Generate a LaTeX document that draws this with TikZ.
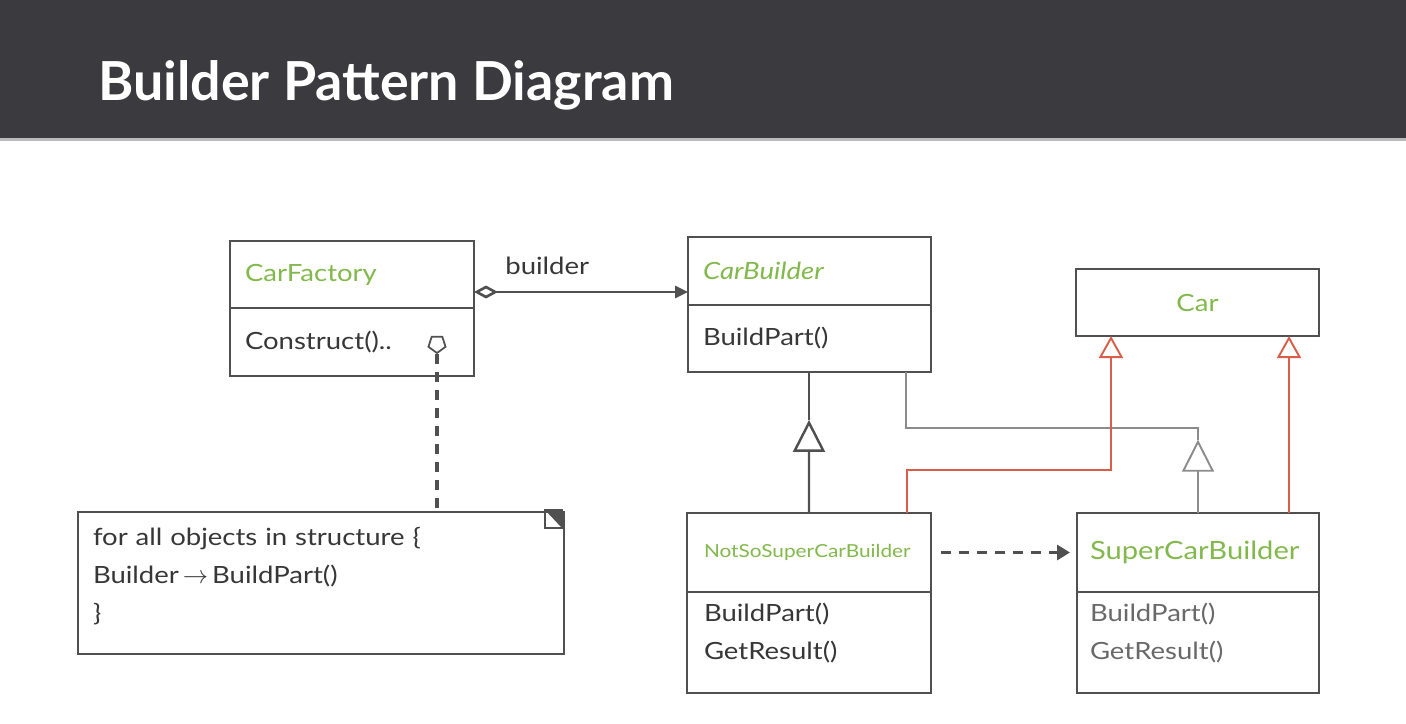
\documentclass[tikz,border=0pt]{standalone}
\usepackage{fontspec}
\setmainfont[FakeStretch=1.16]{Lato}
\newfontfamily\titlefont{Lato}
\usetikzlibrary{arrows.meta, positioning, shapes.geometric, calc}
\definecolor{BarGrey}{RGB}{58, 58, 63}
\definecolor{ClsGreen}{RGB}{130, 184, 76}
\definecolor{LinkRed}{RGB}{216, 94, 74}
\definecolor{LineGrey}{RGB}{80, 80, 80}
\definecolor{SoftGrey}{RGB}{140, 140, 140}
\definecolor{TextGrey}{RGB}{55, 55, 55}
\newcommand{\clsfont}{\fontsize{13.5}{22}\selectfont}
\tikzset{
  clsbox/.style={
    rectangle, draw=LineGrey, line width=1.1pt, anchor=north west,
    inner xsep=3mm, inner ysep=0pt, outer sep=0pt, align=left,
    font=\clsfont, text=TextGrey
  },
  clshead/.style={clsbox, text=ClsGreen},
  gen/.style={line width=1.4pt, color=LineGrey, -{Triangle[open, length=6.4mm, width=6.4mm]}},
  real/.style={line width=1.1pt, color=LinkRed, -{Triangle[open, length=4.4mm, width=4.8mm]}},
  dep/.style={line width=2pt, color=LineGrey, dash pattern=on 2mm off 1.6mm, -{Triangle[length=2.6mm, width=3mm]}},
}

\begin{document}
\begin{tikzpicture}[x=0.2mm, y=-0.2mm]
\useasboundingbox (0,0) rectangle (1406,724);
\fill[white] (0,0) rectangle (1406,724);

% Title bar
\fill[BarGrey] (0,0) rectangle (1406,138);
\fill[SoftGrey!60] (0,138) rectangle (1406,141);
\node[anchor=base west, inner sep=0pt, text=white, font=\titlefont\fontsize{30.6}{36}\selectfont\bfseries] (title) at (98,100) {Builder Pattern Diagram};

% Classes
\node[clshead, text width=42.8mm, minimum height=13.4mm] (cfhead) at (230,241) {CarFactory};
\node[clsbox, text width=42.8mm, minimum height=13.6mm, below=0pt of cfhead] (cfbody) {Construct()..};

\node[clshead, text width=42.6mm, minimum height=13.6mm, font=\clsfont\itshape] (cbhead) at (688,237) {CarBuilder};
\node[clsbox, text width=42.6mm, minimum height=13.4mm, below=0pt of cbhead] (cbbody) {BuildPart()};

\node[clshead, text width=42.6mm, minimum height=13.4mm, align=center] (car) at (1076,269) {Car};

\node[clshead, text width=42mm, minimum height=15.8mm, inner xsep=3.4mm, font=\fontsize{10.2}{12}\selectfont] (nshead) at (687,513) {NotSoSuperCarBuilder};
\node[clsbox, text width=42mm, minimum height=20.2mm, text depth=34.6pt, inner xsep=3.4mm, below=0pt of nshead] (nsbody) {BuildPart()\\GetResult()};

\node[clshead, text width=43.2mm, minimum height=15.8mm, inner xsep=2.6mm, font=\fontsize{14.3}{20}\selectfont] (schead) at (1077,513) {SuperCarBuilder};
\node[clsbox, text width=43.2mm, minimum height=20.2mm, text depth=34.6pt, inner xsep=2.6mm, text=TextGrey!75, below=0pt of schead] (scbody) {BuildPart()\\GetResult()};

% Note
\node[clsbox, text width=91.2mm, minimum height=28.4mm, text depth=53pt, font=\fontsize{13.5}{21.6}\selectfont] (note) at (78,512)
  {for all objects in structure \{\\Builder\,$\rightarrow$\,BuildPart()\\\}};
\draw[LineGrey, line width=0.8pt] ([shift={(-3.8mm,0.4mm)}]note.north east) rectangle ([shift={(-0.4mm,-3.2mm)}]note.north east);
\fill[LineGrey] ([shift={(-3.8mm,0.4mm)}]note.north east) -- ([shift={(-0.4mm,0.4mm)}]note.north east) -- ([shift={(-0.4mm,-3.2mm)}]note.north east) -- cycle;
\node[regular polygon, regular polygon sides=5, shape border rotate=180, draw=LineGrey, line width=1pt, minimum size=3.6mm, inner sep=0pt] (hook) at (437,344) {};
\draw[LineGrey, line width=2pt, dash pattern=on 2mm off 1.6mm] (hook.south) -- (hook.south |- note.north);

% Aggregation
\draw[line width=1.5pt, LineGrey, {Diamond[open, length=4.8mm, width=2.6mm]}-{Triangle[length=2.6mm, width=2.4mm]}]
  ([yshift=-3.5mm]cfhead.east) coordinate (agg) -- (agg -| cbhead.west);
\node[anchor=base west, inner sep=0pt, font=\clsfont, text=TextGrey] (lblbuilder) at (505,274) {builder};

% Generalizations
\coordinate (gA) at ($(nshead.north)!0.66!(nshead.north |- cbbody.south)$);
\draw[gen] (nshead.north) -- (gA);
\draw[line width=1.4pt, LineGrey] (gA) -- (gA |- cbbody.south);
\coordinate (gB) at ($(schead.north)!0.52!(schead.north |- cbbody.south)$);
\draw[gen, color=SoftGrey, line width=1.1pt] (schead.north) -- (gB);
\draw[line width=1.1pt, SoftGrey] (gB) -- ++(0,-12) -| ([xshift=-5mm]cbbody.south east);

% Realizations
\draw[real] ([xshift=-4.8mm]nshead.north east) -- ++(0,-43) -| ([xshift=7mm]car.south west);
\draw[real] ([xshift=-6mm]schead.north east) -- ([xshift=-6mm]schead.north east |- car.south);

% Dependency
\draw[dep] ([xshift=2mm]nshead.east) -- ([xshift=-1.4mm]schead.west);
\end{tikzpicture}
\end{document}
